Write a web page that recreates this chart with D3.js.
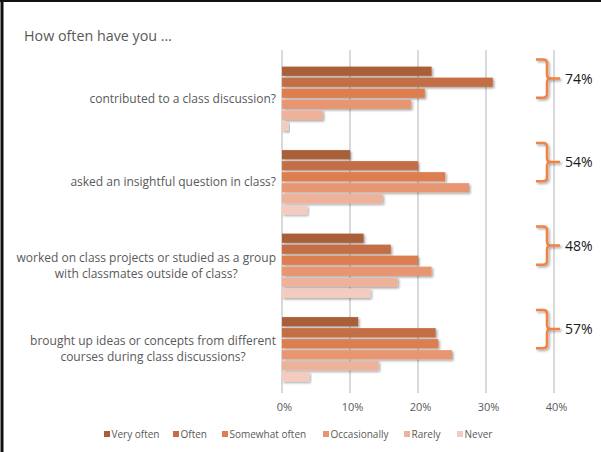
<!DOCTYPE html>
<html>
<head>
<meta charset="utf-8">
<script src="https://cdn.jsdelivr.net/npm/d3@7"></script>
<style>
  html, body { margin: 0; padding: 0; background: #fff; }
  svg { display: block; font-family: "Open Sans", "Noto Sans", sans-serif; }
</style>
</head>
<body>
<svg id="chart" width="601" height="452"></svg>
<script>
// Survey questions (one group of bars each)
const questions = [
  ["contributed to a class discussion?"],
  ["asked an insightful question in class?"],
  ["worked on class projects or studied as a group", "with classmates outside of class?"],
  ["brought up ideas or concepts from different", "courses during class discussions?"]
];
// Answer frequencies
const series = ["Very often", "Often", "Somewhat often", "Occasionally", "Rarely", "Never"];
// Percent of respondents per question, in series order
const veryOften    = [22.0, 10.0, 12.0, 11.2];
const often        = [31.0, 20.0, 16.0, 22.6];
const somewhatOften= [21.0, 24.0, 20.0, 23.0];
const occasionally = [19.0, 27.5, 22.0, 25.0];
const rarely       = [6.0, 14.8, 17.0, 14.2];
const never        = [1.0, 3.7, 13.0, 4.0];
const xTicks = [0, 10, 20, 30, 40];

const colors = ["#A95E39", "#C46E44", "#DC7E4E", "#E89672", "#EEB29B", "#F3CBBF"];
const values = [veryOften, often, somewhatOften, occasionally, rarely, never];

const svg = d3.select("#chart");
const defs = svg.append("defs");
const shadow = defs.append("filter").attr("id", "shadow")
  .attr("x", "-5%").attr("y", "-30%").attr("width", "115%").attr("height", "180%");
shadow.append("feDropShadow").attr("dx", 1.5).attr("dy", 1.5)
  .attr("stdDeviation", 1).attr("flood-color", "#000").attr("flood-opacity", 0.35);

// Frame along the top and left edges
svg.append("line").attr("x1", 2).attr("x2", 2).attr("y1", 0).attr("y2", 452)
  .attr("stroke", "#111").attr("stroke-width", 3);
svg.append("line").attr("x1", 0).attr("x2", 601).attr("y1", 1).attr("y2", 1)
  .attr("stroke", "#111").attr("stroke-width", 2);

svg.append("text").attr("x", 24).attr("y", 41)
  .attr("font-size", 14.3).attr("fill", "#595959")
  .text("How often have you \u2026");

const x = d3.scaleLinear().domain([0, 40]).range([282, 554]);
const y = d3.scaleBand().domain(d3.range(questions.length))
  .range([57, 391]).paddingInner(0.23).paddingOuter(0.115);
const yInner = d3.scaleBand().domain(d3.range(series.length))
  .range([0, y.bandwidth()]).paddingInner(0.16);

// Vertical gridlines
svg.append("g").selectAll("line").data(xTicks).join("line")
  .attr("x1", d => x(d)).attr("x2", d => x(d))
  .attr("y1", 50).attr("y2", 393)
  .attr("stroke", "#d9d9d9").attr("stroke-width", 2);

// Axis labels
const axis = d3.axisBottom(x).tickValues(xTicks).tickFormat(d => d + "%").tickSize(0).tickPadding(0);
const gAxis = svg.append("g").attr("transform", "translate(2,403)").call(axis);
gAxis.select(".domain").remove();
gAxis.selectAll("text").attr("font-size", 11).attr("fill", "#595959")
  .attr("font-family", "\"Open Sans\", sans-serif");

// Bars
const groups = svg.append("g").selectAll("g").data(questions).join("g")
  .attr("transform", (d, i) => `translate(0,${y(i)})`);
groups.selectAll("rect")
  .data((d, i) => series.map((s, j) => ({ j, v: values[j][i] })))
  .join("rect")
  .attr("x", x(0))
  .attr("y", d => yInner(d.j))
  .attr("width", d => x(d.v) - x(0))
  .attr("height", yInner.bandwidth())
  .attr("fill", d => colors[d.j])
  .attr("filter", "url(#shadow)");

// Question labels: block right-aligned, lines centred within the block
groups.each(function (lines, i) {
  const g = d3.select(this);
  const cy = y.bandwidth() / 2;
  const lh = 16;
  const t = g.append("text").attr("font-size", 12).attr("fill", "#595959")
    .attr("text-anchor", "middle");
  const spans = lines.map((l, k) => t.append("tspan").text(l)
    .attr("y", cy + (k - (lines.length - 1) / 2) * lh + 4));
  const w = d3.max(spans, s => s.node().getComputedTextLength());
  spans.forEach(s => s.attr("x", 276 - w / 2));
});

// Brackets spanning the top three answers, with their combined share
const bx0 = 536, bx1 = 547, btip = 560, r = 4;
groups.each(function (d, i) {
  const g = d3.select(this);
  const top = -7;
  const bottom = yInner(3) - 2;
  const mid = (top + bottom) / 2;
  const path = d3.path();
  path.moveTo(bx0, top);
  path.lineTo(bx1 - r, top);
  path.quadraticCurveTo(bx1, top, bx1, top + r);
  path.lineTo(bx1, mid - r);
  path.quadraticCurveTo(bx1, mid, bx1 + r, mid);
  path.lineTo(btip, mid);
  path.moveTo(bx1 + r, mid);
  path.quadraticCurveTo(bx1, mid, bx1, mid + r);
  path.lineTo(bx1, bottom - r);
  path.quadraticCurveTo(bx1, bottom, bx1 - r, bottom);
  path.lineTo(bx0, bottom);
  g.append("path").attr("d", path.toString())
    .attr("fill", "none").attr("stroke", "#EE8246").attr("stroke-width", 2.5)
    .attr("filter", "url(#shadow)");
  const total = veryOften[i] + often[i] + somewhatOften[i];
  g.append("text").attr("x", 565).attr("y", mid + 5)
    .attr("font-size", 14).attr("fill", "#1a1a1a")
    .text(Math.round(total) + "%");
});

// Legend
const legendX = [104, 173, 222, 323, 404, 457];
const legend = svg.append("g").selectAll("g").data(series).join("g")
  .attr("transform", (d, i) => `translate(${legendX[i]},438)`);
legend.append("rect").attr("x", 0).attr("y", -7).attr("width", 6).attr("height", 6)
  .attr("fill", (d, i) => colors[i]);
legend.append("text").attr("x", 7.5).attr("y", 0)
  .attr("font-size", 10).attr("fill", "#595959").text(d => d);
</script>
</body>
</html>
